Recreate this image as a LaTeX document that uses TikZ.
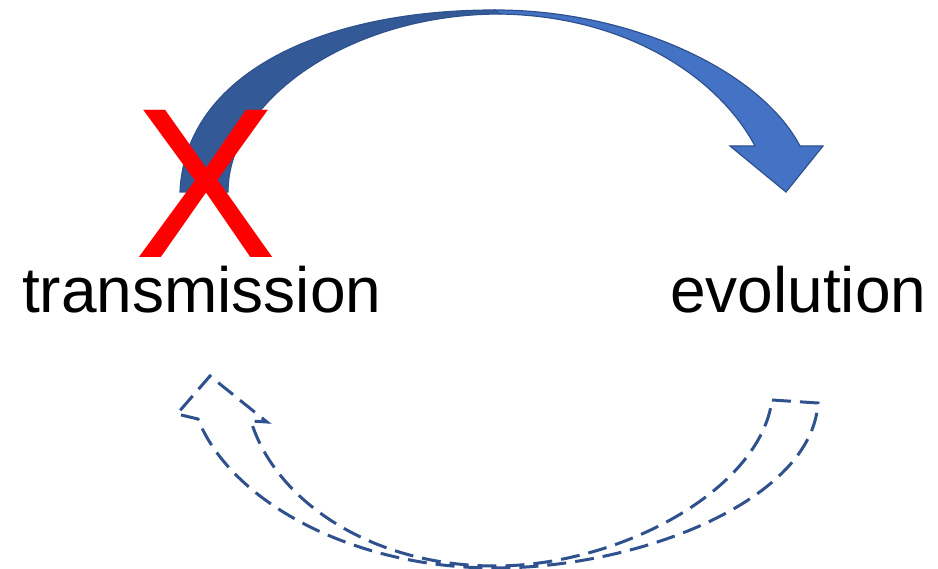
\documentclass[tikz,border=0pt]{standalone}
\usepackage{fontspec}
\setmainfont{Liberation Sans}

\definecolor{arrowdark}{HTML}{335A96}
\definecolor{arrowlight}{HTML}{4472C4}
\definecolor{arrowedge}{HTML}{2F528F}

\begin{document}
\begin{tikzpicture}
    [x=1pt,y=-1pt,
     backstyle/.style={fill=arrowdark,draw=arrowedge,line width=1.2pt,line join=miter},
     frontstyle/.style={fill=arrowlight,draw=arrowedge,line width=1.2pt,line join=miter},
     dashstyle/.style={draw=arrowedge,line width=3pt,dash pattern=on 19pt off 9pt},
     labelstyle/.style={inner sep=0pt,anchor=base west,font=\fontsize{64}{64}\selectfont},
     crossstyle/.style={inner sep=0pt,anchor=base,text depth=0pt,text=red,font=\fontsize{214}{214}\selectfont}]

    \useasboundingbox (0,0) rectangle (938,569);

    % upper block arrow, back half then front half with the head
    \path[backstyle] (180,192) .. controls (185,75) and (320,10) .. (495,10)
        -- (500,14) .. controls (350,14) and (228,100) .. (228,192) -- cycle;
    \path[frontstyle] (495,10) .. controls (630,10) and (760,70) .. (800,146)
        -- (823,146) -- (786,192) -- (730,146) -- (755,146)
        .. controls (720,80) and (630,16) .. (500,14) -- cycle;

    % lower dashed arrow back towards the left
    \path[dashstyle] (772,400) -- (818,403)
        .. controls (812,500) and (640,568) .. (495,568)
        .. controls (350,568) and (230,500) .. (198,419)
        -- (177,414) -- (210,376) -- (267,422) -- (251,421)
        .. controls (275,500) and (370,566) .. (495,566)
        .. controls (620,566) and (760,490) .. (772,400) -- cycle;

    \node[crossstyle] (cross) at (206,258) {X};

    \node[labelstyle] (trans) at (22,313) {transmission};
    \node[labelstyle] (evol) at (670,313) {evolution};
  \end{tikzpicture}
\end{document}
